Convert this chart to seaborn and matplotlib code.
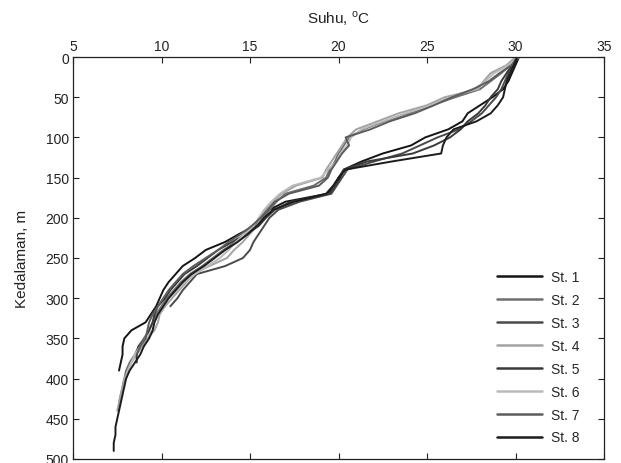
import numpy as np
import pandas as pd
import matplotlib
matplotlib.use("Agg")
import matplotlib.pyplot as plt
import seaborn as sns

# ---------------- data ----------------
stations = ["St. 1", "St. 2", "St. 3", "St. 4", "St. 5", "St. 6", "St. 7", "St. 8"]
colors = ["#141414", "#6e6e6e", "#4a4a4a", "#a3a3a3", "#3a3a3a", "#bababa", "#5c5c5c", "#1c1c1c"]

depth_grid = [0, 10, 20, 30, 40, 50, 60, 70, 80, 90, 100, 110, 120, 130, 140, 150,
              160, 170, 180, 190, 200, 210, 220, 230, 240, 250, 260, 270, 280, 290,
              300, 310, 320, 330, 340, 350, 360, 370, 380, 390, 400, 410, 420, 430,
              440, 450, 460, 470, 480, 490]

temp_st1 = [30.2, 30.0, 29.8, 29.6, 29.3, 28.7, 28.0, 27.3, 27.0, 26.2, 24.9, 24.1, 22.5,
            21.3, 20.3, 20.1, 19.8, 19.4, 17.0, 16.1, 15.7, 15.3, 14.4, 13.6, 12.5, 11.9,
            11.2, 10.8, 10.4, 10.1, 9.9, 9.7, 9.4, 9.1, 8.3, 7.9, 7.8, 7.8, 7.7, 7.6]
temp_st2 = [30.1, 29.7, 29.2, 28.6, 28.0, 26.6, 25.3, 24.0, 22.6, 21.4, 20.6, 20.3, 20.0,
            19.8, 19.5, 19.3, 18.6, 17.0, 16.5, 16.1, 15.7, 15.3, 14.8, 14.2, 13.5, 12.9,
            12.3, 11.6, 11.1, 10.7, 10.3, 10.0, 9.7, 9.5, 9.3, 9.0, 8.7, 8.5, 8.2, 8.0,
            7.9, 7.8, 7.7, 7.6, 7.6]
temp_st3 = [30.0, 29.9, 29.6, 29.4, 29.2, 28.9, 28.5, 28.1, 27.5, 26.8, 25.6, 24.6, 23.6,
            22.0, 20.5, 20.2, 19.9, 19.6, 17.8, 16.6, 16.1, 15.8, 15.5, 15.2, 15.0, 14.6,
            13.6, 12.0, 11.6, 11.2, 10.9, 10.5]
temp_st4 = [30.0, 29.5, 28.6, 28.2, 27.9, 26.0, 25.0, 23.4, 22.2, 21.0, 20.5, 20.2, 19.9,
            19.6, 19.3, 19.1, 17.6, 16.8, 16.3, 15.9, 15.6, 15.4, 15.0, 14.6, 14.1, 13.7,
            12.7, 11.8, 11.4, 11.0, 10.6, 10.2, 9.9, 9.8, 9.6, 9.2, 8.9, 8.6, 8.3, 8.1,
            7.9, 7.8, 7.7, 7.6, 7.5]
temp_st5 = [30.1, 29.8, 29.5, 29.2, 29.0, 28.6, 28.3, 27.9, 27.3, 26.9, 26.3, 25.4, 24.2,
            21.6, 20.3, 20.0, 19.8, 19.5, 17.3, 16.4, 15.9, 15.5, 14.8, 14.0, 13.2, 12.6,
            12.0, 11.3, 10.9, 10.5, 10.2, 9.8, 9.6, 9.5, 9.3, 9.1, 8.7, 8.6, 8.6]
temp_st6 = [30.2, 29.6, 28.8, 28.3, 27.7, 26.3, 25.2, 23.8, 22.5, 21.3, 20.7, 20.5, 20.1,
            19.9, 19.4, 19.0, 17.4, 16.7, 16.2, 15.8, 15.5, 15.2, 14.7, 14.2, 13.8, 13.3,
            12.6, 11.9, 11.3, 10.9, 10.4, 10.1, 9.8, 9.6, 9.5, 9.1, 8.8, 8.5, 8.3, 8.1, 8.0]
temp_st7 = [30.1, 29.8, 29.1, 28.5, 27.6, 26.4, 25.4, 24.3, 22.9, 21.8, 20.4, 20.6, 20.2,
            19.9, 19.6, 19.4, 18.9, 17.2, 16.4, 16.0, 15.6, 15.1, 14.5, 13.8, 13.2, 12.5,
            11.8, 11.2, 10.8, 10.4, 10.1, 9.8, 9.5, 9.3, 9.2, 9.1, 8.8, 8.6]
temp_st8 = [30.1, 29.9, 29.7, 29.5, 29.4, 29.3, 29.0, 28.6, 27.8, 26.5, 26.1, 25.9, 25.8,
            23.0, 20.4, 20.0, 19.7, 19.3, 17.5, 16.3, 15.8, 15.4, 14.9, 14.3, 13.6, 13.0,
            12.4, 11.7, 11.2, 10.8, 10.4, 10.1, 9.8, 9.6, 9.5, 9.3, 9.0, 8.8, 8.5, 8.2,
            8.0, 7.9, 7.8, 7.7, 7.6, 7.5, 7.4, 7.4, 7.3, 7.3]

x_ticks = [5, 10, 15, 20, 25, 30, 35]
y_ticks = [0, 50, 100, 150, 200, 250, 300, 350, 400, 450, 500]

temps = [temp_st1, temp_st2, temp_st3, temp_st4, temp_st5, temp_st6, temp_st7, temp_st8]
rows = []
for name, tlist in zip(stations, temps):
    for i, t in enumerate(tlist):
        rows.append({"Stasiun": name, "Suhu": t, "Kedalaman": depth_grid[i]})
df = pd.DataFrame(rows)

# ---------------- plot ----------------
sns.set_style("white")
plt.rcParams["font.family"] = ["Liberation Sans", "DejaVu Sans"]
plt.rcParams["xtick.direction"] = "in"
plt.rcParams["ytick.direction"] = "in"

fig = plt.figure(figsize=(6.21, 4.64), dpi=100)
ax = fig.add_axes([73 / 621, 4 / 464, (604 - 73) / 621, (460 - 58) / 464])

sns.lineplot(data=df, x="Suhu", y="Kedalaman", hue="Stasiun", palette=colors,
             hue_order=stations, sort=False, estimator=None, units="Stasiun",
             linewidth=1.4, ax=ax, legend=True)

ax.set_xlim(5, 35)
ax.set_ylim(500, 0)
ax.set_xticks(x_ticks)
ax.set_yticks(y_ticks)
ax.xaxis.tick_top()
ax.xaxis.set_label_position("top")
ax.tick_params(axis="both", which="both", labelsize=10, length=4, width=0.8,
               top=True, bottom=True, left=True, right=True, colors="#222222",
               labelcolor="#222222", pad=3)
ax.tick_params(axis="x", labeltop=True, labelbottom=False)
ax.set_xlabel("Suhu, $^\\mathregular{o}$C", fontsize=11, labelpad=12, color="#222222")
ax.set_ylabel("Kedalaman, m", fontsize=11, labelpad=12, color="#222222")
for s in ax.spines.values():
    s.set_visible(True)
    s.set_color("#222222")
    s.set_linewidth(0.9)

leg = ax.legend(loc="lower right", bbox_to_anchor=(0.972, 0.012), frameon=False,
                fontsize=10, handlelength=3.3, handletextpad=0.6, labelspacing=0.64,
                borderaxespad=0.3)
for line in leg.get_lines():
    line.set_linewidth(1.8)

fig.savefig("out.png", dpi=100)
